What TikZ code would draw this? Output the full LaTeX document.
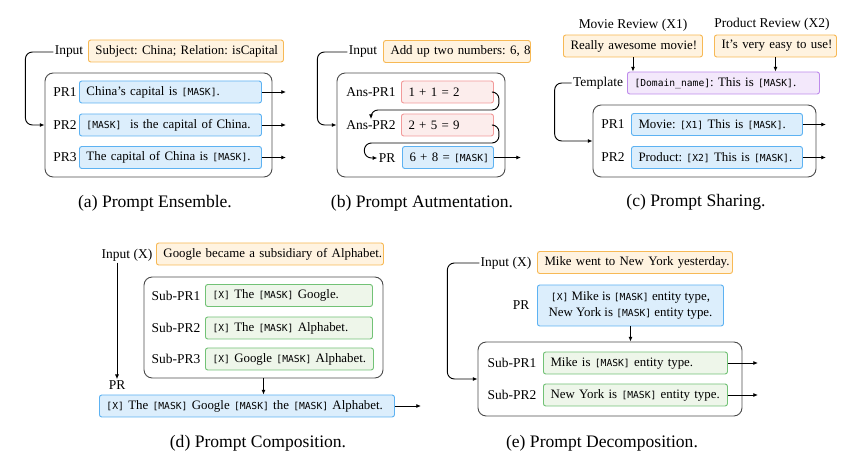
\documentclass[tikz,border=0pt]{standalone}
\usepackage{fontspec}
\setmainfont{Liberation Serif}
\setmonofont{DejaVu Sans Mono}[Scale=0.75]
\usetikzlibrary{arrows.meta,positioning,calc}

\definecolor{orfill}{HTML}{FFF3E0}\definecolor{ordraw}{HTML}{F7B955}
\definecolor{blfill}{HTML}{DCEEFC}\definecolor{bldraw}{HTML}{5DB2F2}
\definecolor{rdfill}{HTML}{FCEDEC}\definecolor{rddraw}{HTML}{F29A9A}
\definecolor{gnfill}{HTML}{EEF6EA}\definecolor{gndraw}{HTML}{72C276}
\definecolor{pufill}{HTML}{F3E8FB}\definecolor{pudraw}{HTML}{BE8BEB}

\newcommand{\pxu}{0.03cm}
\newcommand{\mask}{\texttt{[MASK]}}
\frenchspacing

\begin{document}
\begin{tikzpicture}[x=0.03cm, y=-0.03cm,
    boxbase/.style={draw, rounded corners=2pt, line width=0.8pt, anchor=west, minimum height=22*\pxu,
        inner ysep=1pt, font=\fontsize{11}{13}\selectfont},
    box/.style={boxbase, inner xsep=2pt, align=left, text width=#1*\pxu-4pt,
        execute at begin node={\leavevmode\hspace*{4pt}\hbox\bgroup},
        execute at end node={\egroup}},
    inbox/.style={box=#1, fill=orfill, draw=ordraw},
    prbox/.style={box=#1, fill=blfill, draw=bldraw},
    ansbox/.style={box=#1, fill=rdfill, draw=rddraw},
    subbox/.style={box=#1, fill=gnfill, draw=gndraw},
    tplbox/.style={box=#1, fill=pufill, draw=pudraw},
    frame/.style={draw=black!70, line width=0.8pt, rounded corners=7pt, minimum width=#1*\pxu},
    lbl/.style={inner sep=1pt, font=\fontsize{11.5}{13}\selectfont},
    subcap/.style={font=\fontsize{15}{18}\selectfont},
    arr/.style={-{Latex[length=4pt,width=3.5pt]}, line width=0.8pt},
    looparr/.style={arr, rounded corners=6pt}
]
\useasboundingbox (0,0) rectangle (857,458);

% (a) prompt ensemble
\node[lbl] (lAin) at (69,52) {Input};
\node[inbox=195] (inA) at (88,51) {Subject: China; Relation: isCapital};
\node[frame=227, minimum height=104*\pxu] (frA) at (158.5,125) {};
\node[lbl] (lA1) at (65,92) {PR1};
\node[lbl] (lA2) at (65,125) {PR2};
\node[lbl] (lA3) at (65,157.5) {PR3};
\node[prbox=182] (pA1) at (79,92) {China's capital is \mask.};
\node[prbox=182] (pA2) at (79,125) {\mask\ \ is the capital of China.};
\node[prbox=182] (pA3) at (79,157.5) {The capital of China is \mask.};
\node[subcap] (capA) at (155,203) {(a) Prompt Ensemble.};

\draw[looparr] (lAin.west) -- ++(-28,0) |- (frA.west |- lA2);
\draw[arr] (pA1.east) -- ++(24,0);
\draw[arr] (pA2.east) -- ++(24,0);
\draw[arr] (pA3.east) -- ++(24,0);

% (b) prompt augmentation
\node[lbl] (lBin) at (363,52) {Input};
\node[inbox=147] (inB) at (383,51.5) {Add up two numbers: 6, 8};
\node[frame=168, minimum height=104*\pxu] (frB) at (421,125) {};
\node[lbl] (lB1) at (371,92) {Ans-PR1};
\node[lbl] (lB2) at (371,125) {Ans-PR2};
\node[lbl] (lB3) at (387,158) {PR};
\node[ansbox=92] (aB1) at (401,92) {1 + 1 = 2};
\node[ansbox=92] (aB2) at (401,125) {2 + 5 = 9};
\node[prbox=91] (pB) at (402,157.5) {6 + 8 = \mask};
\node[subcap] (capB) at (422,203) {(b) Prompt Autmentation.};

\draw[looparr] (lBin.west) -- ++(-30,0) |- (frB.west |- lB2);
\draw[looparr] (aB1.east) -- ++(5,0) -- ++(0,18) -| (lB2.north);
\draw[looparr] (aB2.east) -- ++(5,0) -- ++(0,18) -| ($(lB3.west)+(-13,0)$) -- (lB3.west);
\draw[arr] (pB.east) -- ++(27,0);

% (c) prompt sharing
\node[lbl] (lCmv) at (633,25) {Movie Review (X1)};
\node[inbox=139] (mvC) at (563,46) {Really awesome movie!};
\node[lbl] (lCpd) at (772,24) {Product Review (X2)};
\node[inbox=122] (pdC) at (714,46) {It's very easy to use!};
\node[lbl] (lCtp) at (598,83) {Template};
\node[tplbox=192] (tpC) at (627,83) {\texttt{[Domain\_name]}:\ This is \mask.};
\node[frame=223, minimum height=72*\pxu] (frC) at (704.5,141) {};
\node[lbl] (lC1) at (613,124.5) {PR1};
\node[lbl] (lC2) at (613,157.5) {PR2};
\node[prbox=171] (pC1) at (631,124.5) {Movie: \texttt{[X1]} This is \mask.};
\node[prbox=171] (pC2) at (631,157.5) {Product: \texttt{[X2]} This is \mask.};
\node[subcap] (capC) at (696,202) {(c) Prompt Sharing.};

\draw[arr] (mvC.south) -- (mvC.south |- tpC.north);
\draw[arr] (pdC.south) -- (pdC.south |- tpC.north);
\draw[looparr] (lCtp.west) -- ++(-17,0) |- (frC.west);
\draw[arr] (pC1.east) -- ++(23,0);
\draw[arr] (pC2.east) -- ++(23,0);

% (d) prompt composition
\node[lbl] (lDin) at (127,255) {Input (X)};
\node[inbox=227] (inD) at (156,254) {Google became a subsidiary of Alphabet.};
\node[frame=239, minimum height=101*\pxu] (frD) at (263.5,327.5) {};
\node[lbl] (lD1) at (176,295.5) {Sub-PR1};
\node[lbl] (lD2) at (176,328) {Sub-PR2};
\node[lbl] (lD3) at (176,359) {Sub-PR3};
\node[subbox=167] (sD1) at (205,295.5) {\texttt{[X]} The \mask\ Google.};
\node[subbox=167] (sD2) at (205,328) {\texttt{[X]} The \mask\ Alphabet.};
\node[subbox=168] (sD3) at (205,359) {\texttt{[X]} Google \mask\ Alphabet.};
\node[lbl] (lDpr) at (117,385) {PR};
\node[prbox=295] (pD) at (99,406) {\texttt{[X]} The \mask\ Google \mask\ the \mask\ Alphabet.};
\node[subcap] (capD) at (258,443) {(d) Prompt Composition.};

\draw[arr] (lDin.south -| lDpr) -- (lDpr.north);
\draw[arr] (frD.south) -- (frD.south |- pD.north);
\draw[arr] (pD.east) -- ++(26,0);

% (e) prompt decomposition
\node[lbl] (lEin) at (506,263) {Input (X)};
\node[inbox=195] (inE) at (537,262.5) {Mike went to New York yesterday.};
\node[lbl] (lEpr) at (521,305) {PR};
\node[boxbase, fill=blfill, draw=bldraw, minimum width=186*\pxu, minimum height=41*\pxu, align=center]
    (pE) at (537,305.5) {\texttt{[X]} Mike is \mask\ entity type,\\New York is \mask\ entity type.};
\node[frame=264, minimum height=74*\pxu] (frE) at (610,379) {};
\node[lbl] (lE1) at (512,363) {Sub-PR1};
\node[lbl] (lE2) at (512,395) {Sub-PR2};
\node[subbox=184] (sE1) at (543,363) {Mike is \mask\ entity type.};
\node[subbox=184] (sE2) at (543,395) {New York is \mask\ entity type.};
\node[subcap] (capE) at (602,443) {(e) Prompt Decomposition.};

\draw[arr] (pE.south) -- (pE.south |- frE.north);
\draw[looparr] (lEin.west) -- ++(-32,0) |- (frE.west);
\draw[arr] (sE1.east) -- ++(30,0);
\draw[arr] (sE2.east) -- ++(30,0);
\end{tikzpicture}
\end{document}
